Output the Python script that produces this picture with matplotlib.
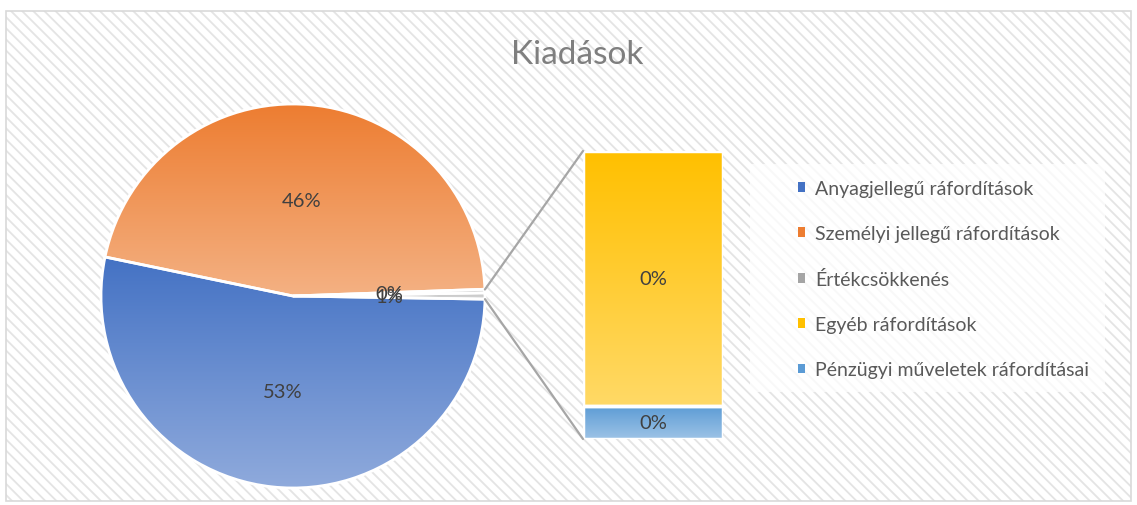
import matplotlib
matplotlib.use("Agg")
import matplotlib.pyplot as plt
import numpy as np
from matplotlib.patches import Rectangle, Patch, ConnectionPatch
from matplotlib.colors import to_rgb

# ---------------- data ----------------
title = "Kiadások"
categories = ["Anyagjellegű ráfordítások",
              "Személyi jellegű ráfordítások",
              "Értékcsökkenés",
              "Egyéb ráfordítások",
              "Pénzügyi műveletek ráfordításai"]
values = [53.0, 46.18, 0.30, 0.46, 0.06]
n_secondary = 2   # last two categories go to the bar
top_colors = ["#4472C4", "#ED7D31", "#A5A5A5", "#FFC000", "#5B9BD5"]
bottom_colors = ["#8FAADC", "#F4B183", "#C9C9C9", "#FFD966", "#9DC3E6"]
other_color_top, other_color_bottom = "#BFBFBF", "#D9D9D9"

W, H = 1137, 506
plt.rcParams['font.family'] = ['Lato', 'DejaVu Sans']


def fx(px):
    return px / W


def fy(py):
    return 1 - py / H


def pct_label(v, total):
    p = v / total * 100
    return f"{int(np.floor(p + 0.5))}%"


def gradient_fill(ax, patch, c_top, c_bottom, bbox):
    t = np.array(to_rgb(c_top))
    b = np.array(to_rgb(c_bottom))
    s = np.linspace(0, 1, 256)[:, None]
    img = (t[None, :] * (1 - s) + b[None, :] * s)[:, None, :]
    im = ax.imshow(img, extent=(bbox.x0, bbox.x1, bbox.y0, bbox.y1),
                   origin='upper', aspect='auto', interpolation='bilinear',
                   zorder=patch.get_zorder() - 0.01)
    im.set_clip_path(patch)


fig = plt.figure(figsize=(W / 100, H / 100), dpi=100)
fig.patch.set_facecolor('white')

# background with diagonal hatch + border
plt.rcParams['hatch.linewidth'] = 1.3
bg = Rectangle((fx(6), fy(502)), fx(1131) - fx(6), fy(12) - fy(502),
               transform=fig.transFigure, facecolor='white',
               edgecolor='#E4E4E4', hatch='\\' * 3, lw=0, zorder=-10)
fig.patches.append(bg)
border = Rectangle((fx(6), fy(502)), fx(1131) - fx(6), fy(12) - fy(502),
                   transform=fig.transFigure, facecolor='none',
                   edgecolor='#D9D9D9', lw=1.2, zorder=-9)
fig.patches.append(border)

total = sum(values)
main_vals = values[:-n_secondary] + [sum(values[-n_secondary:])]
sec_vals = values[-n_secondary:]

# ---------------- pie ----------------
R = 192
cx, cy = 293, 297
ax_pie = fig.add_axes([fx(cx - R), fy(cy + R), 2 * R / W, 2 * R / H])
other_deg = main_vals[-1] / total * 360
wedges, texts, autotexts = ax_pie.pie(
    main_vals, startangle=-other_deg / 2, counterclock=False,
    autopct=lambda p: f"{int(np.floor(p + 0.5))}%", pctdistance=0.5,
    wedgeprops=dict(edgecolor='white', linewidth=2),
    textprops=dict(color='#404040', fontsize=14.5))
ptops = top_colors[:len(main_vals) - 1] + [other_color_top]
pbots = bottom_colors[:len(main_vals) - 1] + [other_color_bottom]
for w, ct, cb in zip(wedges, ptops, pbots):
    bb = w.get_path().get_extents()
    gradient_fill(ax_pie, w, ct, cb, bb)
    w.set_facecolor('none')
for t in autotexts:
    t.set_zorder(5)
ax_pie.set_xlim(-1, 1)
ax_pie.set_ylim(-1, 1)
ax_pie.axis('off')

# ---------------- bar ----------------
ax_bar = fig.add_axes([fx(583), fy(440), 140 / W, 288 / H])
bottom = 0
sec_idx = list(range(len(values) - n_secondary, len(values)))[::-1]
for i in sec_idx:
    v = values[i]
    cont = ax_bar.bar(0, v, width=1, bottom=bottom, color='none',
                      edgecolor='white', linewidth=2.5, zorder=2)
    rect = cont.patches[0]
    gradient_fill(ax_bar, rect, top_colors[i], bottom_colors[i],
                  rect.get_bbox())
    ax_bar.bar_label(cont, labels=[pct_label(v, total)], label_type='center',
                     color='#404040', fontsize=14.5, zorder=5)
    bottom += v
ax_bar.set_xlim(-0.5, 0.5)
ax_bar.set_ylim(0, sum(sec_vals))
ax_bar.axis('off')

# connector lines
ow = wedges[-1]
for ang, yb in [(max(ow.theta1, ow.theta2) + 1.0, 1), (min(ow.theta1, ow.theta2), 0)]:
    a = np.deg2rad(ang)
    con = ConnectionPatch(xyA=(np.cos(a), np.sin(a)), coordsA=ax_pie.transData,
                          xyB=(0, yb), coordsB=ax_bar.transAxes,
                          color='#A6A6A6', linewidth=1.6)
    fig.add_artist(con)

# ---------------- title ----------------
fig.text(fx(577), fy(55), title, ha='center', va='center', fontsize=24,
         color='#7F7F7F')

# ---------------- legend ----------------
fig.patches.append(Rectangle((fx(750), fy(393)), fx(1105) - fx(750),
                             fy(165) - fy(393), transform=fig.transFigure,
                             facecolor='white', alpha=0.75, lw=0, zorder=-5))
handles = [Patch(facecolor=c, edgecolor='none') for c in top_colors]
fig.legend(handles, categories, loc='center left',
           bbox_to_anchor=(fx(780), fy(280)), frameon=False,
           handlelength=0.4, handleheight=0.4, handletextpad=0.5,
           labelspacing=1.45, fontsize=14, labelcolor='#595959')

fig.savefig('out.png', dpi=100)
